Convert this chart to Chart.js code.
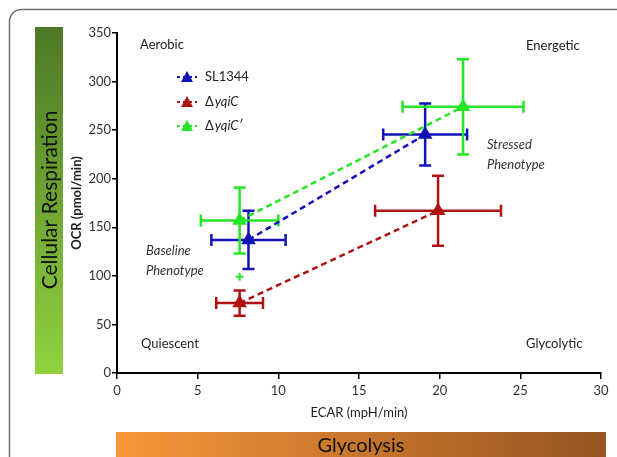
<!DOCTYPE html>
<html>
<head>
<meta charset="utf-8">
<script src="https://cdn.jsdelivr.net/npm/chart.js@4.4.1/dist/chart.umd.min.js"></script>
<style>
  html, body { margin: 0; padding: 0; background: #fff; }
  canvas { display: block; }
</style>
</head>
<body>
<canvas id="chart" width="617" height="457"></canvas>
<script>
// Series: [baseline, stressed]
const seriesNames = ['SL1344', '\u0394yqiC', '\u0394yqiC\u2032'];
const seriesColors = ['#1212b8', '#b01212', '#24e624'];

const sl1344X = [8.15, 19.1];
const sl1344Y = [137, 245.5];
const sl1344ErrX = [2.3, 2.6];
const sl1344ErrY = [30, 32];

const yqiCX = [7.6, 19.9];
const yqiCY = [72, 167];
const yqiCErrX = [1.45, 3.9];
const yqiCErrY = [13, 36];

const yqiCPrimeX = [7.6, 21.45];
const yqiCPrimeY = [157, 274];
const yqiCPrimeErrX = [2.4, 3.75];
const yqiCPrimeErrY = [34, 49];

// small stray green mark under the baseline points
const strayMark = [{ x: 7.6, y: 99 }];

const xTicks = [0, 5, 10, 15, 20, 25, 30];
const yTicks = [0, 50, 100, 150, 200, 250, 300, 350];

const LABEL_FONT = 'Lato, "Open Sans", sans-serif';

function toPoints(xs, ys) {
    return xs.map((x, i) => ({ x: x, y: ys[i] }));
}

function makeSeries(i, xs, ys, ex, ey) {
    return {
        label: seriesNames[i],
        data: toPoints(xs, ys),
        errX: ex,
        errY: ey,
        showLine: true,
        borderColor: seriesColors[i],
        backgroundColor: seriesColors[i],
        borderWidth: 2.5,
        borderDash: [6, 4],
        pointStyle: 'triangle',
        pointRadius: 6,
        pointHoverRadius: 6
    };
}

// Backgrounds: frame, coloured bars, quadrant text
const decorPlugin = {
    id: 'decor',
    beforeDraw(chart) {
        const ctx = chart.ctx;
        ctx.save();
        ctx.fillStyle = '#fff';
        ctx.fillRect(0, 0, chart.width, chart.height);

        // rounded frame
        ctx.strokeStyle = '#6e6e6e';
        ctx.lineWidth = 1.5;
        ctx.beginPath();
        ctx.roundRect(9.5, 9.5, 660, 500, 12);
        ctx.stroke();

        // green bar
        let g = ctx.createLinearGradient(0, 27, 0, 374);
        g.addColorStop(0, '#4d7826');
        g.addColorStop(1, '#90d23f');
        ctx.fillStyle = g;
        ctx.fillRect(35, 27, 28, 347);

        // orange bar
        g = ctx.createLinearGradient(116, 0, 606, 0);
        g.addColorStop(0, '#f99739');
        g.addColorStop(1, '#955420');
        ctx.fillStyle = g;
        ctx.fillRect(116, 432, 490, 30);

        ctx.fillStyle = '#111';
        ctx.textAlign = 'center';
        ctx.textBaseline = 'middle';
        ctx.font = '20px ' + LABEL_FONT;
        ctx.fillText('Glycolysis', 361, 446);
        ctx.save();
        ctx.translate(50, 200);
        ctx.rotate(-Math.PI / 2);
        ctx.font = '21px ' + LABEL_FONT;
        ctx.fillText('Cellular Respiration', 0, 0);
        ctx.restore();

        ctx.fillStyle = '#222';
        ctx.font = '13px ' + LABEL_FONT;
        ctx.textAlign = 'left';
        ctx.fillText('Aerobic', 140, 45);
        ctx.fillText('Energetic', 526, 46);
        ctx.fillText('Quiescent', 141, 344);
        ctx.fillText('Glycolytic', 526, 344);

        ctx.font = 'italic 13px ' + LABEL_FONT;
        ctx.fillStyle = '#333';
        ctx.fillText('Baseline', 146, 251);
        ctx.fillText('Phenotype', 146, 271);
        ctx.fillText('Stressed', 487, 145);
        ctx.fillText('Phenotype', 487, 165);
        ctx.restore();
    }
};

// Error bars drawn through the chart's scales
const errorBarPlugin = {
    id: 'errorBars',
    beforeDatasetsDraw(chart) {
        const ctx = chart.ctx;
        const xs = chart.scales.x, ys = chart.scales.y;
        const cap = 6;
        ctx.save();
        chart.data.datasets.forEach(ds => {
            if (!ds.errX) return;
            ctx.strokeStyle = ds.borderColor;
            ctx.lineWidth = 2.5;
            ctx.setLineDash([]);
            ds.data.forEach((p, i) => {
                const px = xs.getPixelForValue(p.x);
                const py = ys.getPixelForValue(p.y);
                const x0 = xs.getPixelForValue(p.x - ds.errX[i]);
                const x1 = xs.getPixelForValue(p.x + ds.errX[i]);
                const y0 = ys.getPixelForValue(p.y - ds.errY[i]);
                const y1 = ys.getPixelForValue(p.y + ds.errY[i]);
                ctx.beginPath();
                ctx.moveTo(x0, py); ctx.lineTo(x1, py);
                ctx.moveTo(x0, py - cap); ctx.lineTo(x0, py + cap);
                ctx.moveTo(x1, py - cap); ctx.lineTo(x1, py + cap);
                ctx.moveTo(px, y0); ctx.lineTo(px, y1);
                ctx.moveTo(px - cap, y0); ctx.lineTo(px + cap, y0);
                ctx.moveTo(px - cap, y1); ctx.lineTo(px + cap, y1);
                ctx.stroke();
            });
        });
        ctx.restore();
    }
};

// Legend at top-left of the plot
const legendPlugin = {
    id: 'customLegend',
    afterDraw(chart) {
        const ctx = chart.ctx;
        const rows = [77, 102, 126];
        ctx.save();
        seriesNames.forEach((name, i) => {
            const y = rows[i];
            const c = seriesColors[i];
            ctx.strokeStyle = c;
            ctx.fillStyle = c;
            ctx.lineWidth = 2;
            ctx.setLineDash([3, 3]);
            ctx.beginPath();
            ctx.moveTo(177, y); ctx.lineTo(197, y);
            ctx.stroke();
            ctx.setLineDash([]);
            ctx.beginPath();
            ctx.moveTo(187, y - 6);
            ctx.lineTo(193, y + 5);
            ctx.lineTo(181, y + 5);
            ctx.closePath();
            ctx.fill();

            ctx.fillStyle = '#222';
            ctx.textBaseline = 'middle';
            ctx.textAlign = 'left';
            if (i === 0) {
                ctx.font = '13px ' + LABEL_FONT;
                ctx.fillText(name, 205, y);
            } else {
                ctx.font = '13px ' + LABEL_FONT;
                ctx.fillText('\u0394', 205, y);
                const w = ctx.measureText('\u0394').width;
                ctx.font = 'italic 13px ' + LABEL_FONT;
                ctx.fillText(name.slice(1), 205 + w + 1, y);
            }
        });
        ctx.restore();
    }
};

new Chart(document.getElementById('chart'), {
    type: 'scatter',
    data: {
        datasets: [
            makeSeries(0, sl1344X, sl1344Y, sl1344ErrX, sl1344ErrY),
            makeSeries(1, yqiCX, yqiCY, yqiCErrX, yqiCErrY),
            makeSeries(2, yqiCPrimeX, yqiCPrimeY, yqiCPrimeErrX, yqiCPrimeErrY),
            {
                label: 'mark',
                data: strayMark,
                pointStyle: 'cross',
                pointRadius: 4,
                borderWidth: 2,
                borderColor: seriesColors[2]
            }
        ]
    },
    options: {
        responsive: false,
        animation: false,
        layout: { padding: { left: 0, top: 33, right: 16, bottom: 0 } },
        plugins: {
            legend: { display: false },
            tooltip: { enabled: false }
        },
        scales: {
            x: {
                type: 'linear',
                min: 0,
                max: 30,
                afterBuildTicks: s => { s.ticks = xTicks.map(v => ({ value: v })); },
                afterFit: s => { s.height = 84; },
                grid: { drawOnChartArea: false, drawTicks: true, tickLength: 6, color: '#000', lineWidth: 1.5 },
                border: { color: '#000', width: 2 },
                ticks: { color: '#333', padding: 4, font: { family: LABEL_FONT, size: 13 } },
                title: {
                    display: true,
                    text: 'ECAR (mpH/min)',
                    color: '#222',
                    padding: { top: 0, bottom: 36 },
                    font: { family: LABEL_FONT, size: 13 }
                }
            },
            y: {
                type: 'linear',
                min: 0,
                max: 350,
                afterBuildTicks: s => { s.ticks = yTicks.map(v => ({ value: v })); },
                afterFit: s => { s.width = 117; },
                grid: { drawOnChartArea: false, drawTicks: true, tickLength: 5, color: '#000', lineWidth: 1.5 },
                border: { color: '#000', width: 2 },
                ticks: { color: '#333', padding: 1, font: { family: LABEL_FONT, size: 13 } },
                title: {
                    display: true,
                    text: 'OCR (pmol/min)',
                    color: '#222',
                    padding: { top: 69, bottom: 0 },
                    font: { family: LABEL_FONT, size: 13, weight: 'bold' }
                }
            }
        }
    },
    plugins: [decorPlugin, errorBarPlugin, legendPlugin]
});
</script>
</body>
</html>
